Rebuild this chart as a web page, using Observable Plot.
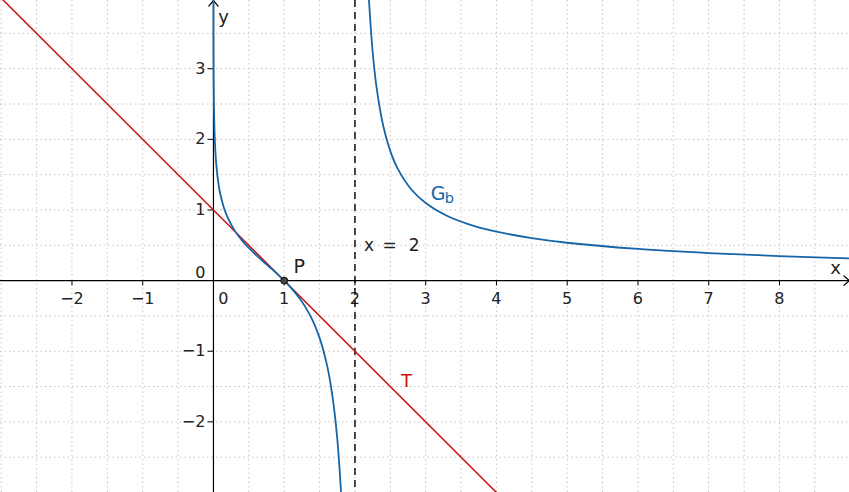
<!DOCTYPE html>
<html>
<head>
<meta charset="utf-8">
<script src="https://cdn.jsdelivr.net/npm/d3@7"></script>
<script src="https://cdn.jsdelivr.net/npm/@observablehq/plot@0.6"></script>
<style>
  html, body { margin: 0; padding: 0; background: #fff; }
  svg { display: block; }
</style>
</head>
<body>
<script>
// ---- data ----
const xDomain = [-3.01, 8.99];
const yDomain = [-3.0, 3.966];

const xTickVals = [-2, -1, 1, 2, 3, 4, 5, 6, 7, 8];
const xTickLabels = ["−2", "−1", "1", "2", "3", "4", "5", "6", "7", "8"];
const yTickVals = [-2, -1, 1, 2, 3];
const yTickLabels = ["−2", "−1", "1", "2", "3"];
const gridVals = [-3, -2.5, -2, -1.5, -1, -0.5, 0, 0.5, 1, 1.5, 2, 2.5, 3, 3.5, 4, 4.5, 5, 5.5, 6, 6.5, 7, 7.5, 8, 8.5, 9];

// graph G_b, left branch (0 < x < 2)
const leftX = [0.0002, 0.0004, 0.001, 0.0015, 0.003, 0.005, 0.01, 0.02, 0.04, 0.07, 0.1, 0.15, 0.2, 0.3, 0.4, 0.5, 0.6, 0.7, 0.8, 0.9, 1.0, 1.1, 1.2, 1.3, 1.4, 1.5, 1.6, 1.65, 1.7, 1.75, 1.8, 1.82];
const leftY = [4.259, 3.913, 3.456, 3.254, 2.909, 2.656, 2.314, 1.976, 1.642, 1.378, 1.212, 1.025, 0.894, 0.708, 0.573, 0.462, 0.365, 0.274, 0.186, 0.096, 0, -0.106, -0.228, -0.375, -0.561, -0.811, -1.175, -1.431, -1.769, -2.238, -2.939, -3.327];
// graph G_b, right branch (x > 2)
const rightX = [2.18, 2.2, 2.25, 2.3, 2.4, 2.5, 2.6, 2.8, 3.0, 3.3, 3.6, 4, 4.5, 5, 6, 7, 8, 9];
const rightY = [4.329, 3.942, 3.244, 2.776, 2.189, 1.833, 1.593, 1.287, 1.099, 0.918, 0.801, 0.693, 0.602, 0.536, 0.448, 0.389, 0.347, 0.314];

// tangent T
const tangentX = [-3.05, 4.05];
const tangentY = [4.05, -3.05];

// asymptote and point
const asymptoteX = [2];
const pointP = [{x: 1, y: 0}];

// ---- build tables ----
const curve = [
  ...leftX.map((x, i) => ({x, y: leftY[i], branch: "left"})),
  ...rightX.map((x, i) => ({x, y: rightY[i], branch: "right"}))
];
const tangent = tangentX.map((x, i) => ({x, y: tangentY[i]}));
const xTicks = xTickVals.map((v, i) => ({v, label: xTickLabels[i]}));
const yTicks = yTickVals.map((v, i) => ({v, label: yTickLabels[i]}));

const font = "DejaVu Sans, sans-serif";
const blue = "#1565a8";
const red = "#cc1010";

const chart = Plot.plot({
  width: 849,
  height: 492,
  margin: 0,
  style: {background: "#fff", fontFamily: font},
  x: {domain: xDomain, axis: null},
  y: {domain: yDomain, axis: null},
  marks: [
    // grid
    Plot.ruleX(gridVals, {stroke: "#c4c4c4", strokeWidth: 1, strokeDasharray: "1.5,3"}),
    Plot.ruleY(gridVals, {stroke: "#c4c4c4", strokeWidth: 1, strokeDasharray: "1.5,3"}),
    // axes with arrow heads
    Plot.arrow([0], {x1: xDomain[0], x2: xDomain[1], y1: 0, y2: 0, stroke: "#000", strokeWidth: 1.2, headLength: 9, headAngle: 80}),
    Plot.arrow([0], {x1: 0, x2: 0, y1: yDomain[0], y2: yDomain[1], stroke: "#000", strokeWidth: 1.2, headLength: 9, headAngle: 80}),
    // ticks
    Plot.ruleX(xTickVals, {y1: 0, y2: -0.075, stroke: "#000", strokeWidth: 1}),
    Plot.ruleY(yTickVals, {x1: 0, x2: -0.075, stroke: "#000", strokeWidth: 1}),
    // tick labels
    Plot.text(xTicks, {x: "v", y: 0, text: "label", dy: 18, fontSize: 16, fill: "#222"}),
    Plot.text(yTicks, {x: 0, y: "v", text: "label", dx: -8, textAnchor: "end", fontSize: 16, fill: "#222"}),
    Plot.text(["0"], {x: 0, y: 0, text: d => d, dx: 10, dy: 18, fontSize: 16, fill: "#222"}),
    Plot.text(["0"], {x: 0, y: 0, text: d => d, dx: -8, dy: -8, textAnchor: "end", fontSize: 16, fill: "#222"}),
    // axis names
    Plot.text(["x"], {x: xDomain[1], y: 0, text: d => d, dx: -14, dy: -12, fontSize: 18, fill: "#222"}),
    Plot.text(["y"], {x: 0, y: yDomain[1], text: d => d, dx: 10, dy: 17, fontSize: 18, fill: "#222"}),
    // asymptote
    Plot.ruleX(asymptoteX, {stroke: "#000", strokeWidth: 1.4, strokeDasharray: "7,5"}),
    Plot.text(["x\u2002=\u2002\u20092"], {x: 2, y: 0.496, text: d => d, dx: 9, textAnchor: "start", fontSize: 17, fill: "#222"}),
    // tangent
    Plot.line(tangent, {x: "x", y: "y", stroke: red, strokeWidth: 1.5, clip: true}),
    Plot.text(["T"], {x: 2.73, y: -1.42, text: d => d, fontSize: 18, fill: red}),
    // curve
    Plot.line(curve, {x: "x", y: "y", z: "branch", stroke: blue, strokeWidth: 1.8, curve: "catmull-rom", clip: true}),
    Plot.text(["G"], {x: 3.2, y: 1.23, text: d => d, fontSize: 19, fill: blue, textAnchor: "start", dx: -9}),
    Plot.text(["b"], {x: 3.2, y: 1.23, text: d => d, fontSize: 14.5, fill: blue, textAnchor: "start", dx: 5, dy: 5}),
    // point P
    Plot.dot(pointP, {x: "x", y: "y", r: 3.5, fill: "#444", stroke: "#111", strokeWidth: 1}),
    Plot.text(["P"], {x: 1, y: 0, text: d => d, dx: 15, dy: -14, fontSize: 19, fill: "#222"})
  ]
});
document.body.appendChild(chart);
</script>
</body>
</html>
